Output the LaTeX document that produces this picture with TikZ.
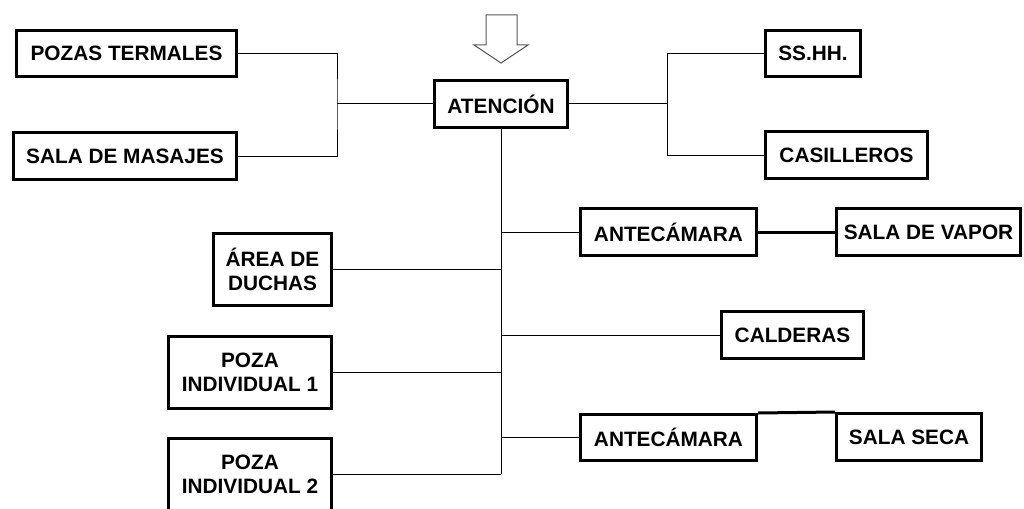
\documentclass[tikz,border=0pt]{standalone}
\usepackage{fontspec}
\setmainfont{Liberation Sans}
\begin{document}
\begin{tikzpicture}[x=1pt,y=-1pt,
  box/.style={draw=black,line width=3pt,fill=white,inner sep=0pt,align=center,
    font=\bfseries\fontsize{20.8}{24}\selectfont},
  thin/.style={draw=black,line width=1pt},
  thickline/.style={draw=black,line width=3pt}]
\useasboundingbox (0,0) rectangle (1024,508);
\clip (0,0) rectangle (1024,508);
% arrow
\draw[draw=black!65,line width=1pt,fill=white,line join=miter]
  (486,15) -- (517,15) -- (517,45) -- (528,45) -- (501,63) -- (474,45) -- (486,45) -- cycle;
% nodes
\node[box,minimum width=220pt,minimum height=46pt] (pt) at (126.5,53.5) {POZAS TERMALES};
\node[box,minimum width=223pt,minimum height=47pt] (sm) at (125,156) {SALA DE MASAJES};
\node[box,minimum width=133pt,minimum height=47pt] (at) at (501,104) {ATENCIÓN};
\node[box,minimum width=95pt,minimum height=46pt] (ss) at (813,53.5) {SS.HH.};
\node[box,minimum width=162pt,minimum height=47pt] (cas) at (846.5,155) {CASILLEROS};
\node[box,minimum width=176pt,minimum height=47pt] (an1) at (668.5,232) {ANTECÁMARA};
\node[box,minimum width=184pt,minimum height=47pt] (sv) at (928.5,232) {SALA DE VAPOR};
\node[box,minimum width=118pt,minimum height=72pt] (ad) at (272.5,269.5) {ÁREA DE\\DUCHAS};
\node[box,minimum width=142pt,minimum height=47pt] (cal) at (792.5,335) {CALDERAS};
\node[box,minimum width=163pt,minimum height=72pt] (pi1) at (250,372.5) {POZA\\INDIVIDUAL 1};
\node[box,minimum width=163pt,minimum height=72pt] (pi2) at (250,474) {POZA\\INDIVIDUAL 2};
\node[box,minimum width=176pt,minimum height=46pt] (an2) at (668.5,437.5) {ANTECÁMARA};
\node[box,minimum width=145pt,minimum height=47pt] (sse) at (909,437) {SALA SECA};
% bracket points
\coordinate (lb) at (337,104);
\coordinate (rb) at (667,104);
% left bracket
\draw[thin] (pt.east) -| (lb) |- (sm.east);
\draw[thin] (lb) -- (at.west);
% right bracket
\draw[thin] (ss.west) -| (rb) |- (cas.west);
\draw[thin] (rb) -- (at.east);
% trunk
\draw[thin] (at.south) -- (pi2.east -| at.south);
\draw[thin] (an1.west) -- (an1.west -| at.south);
\draw[thin] (ad.east) -- (ad.east -| at.south);
\draw[thin] (cal.west) -- (cal.west -| at.south);
\draw[thin] (pi1.east) -- (pi1.east -| at.south);
\draw[thin] (an2.west) -- (an2.west -| at.south);
\draw[thin] (pi2.east) -- (pi2.east -| at.south);
% thick links
\draw[thickline] (an1.east) -- (sv.west);
\draw[thickline] (an2.north east) -- (sse.north west);
\end{tikzpicture}
\end{document}
